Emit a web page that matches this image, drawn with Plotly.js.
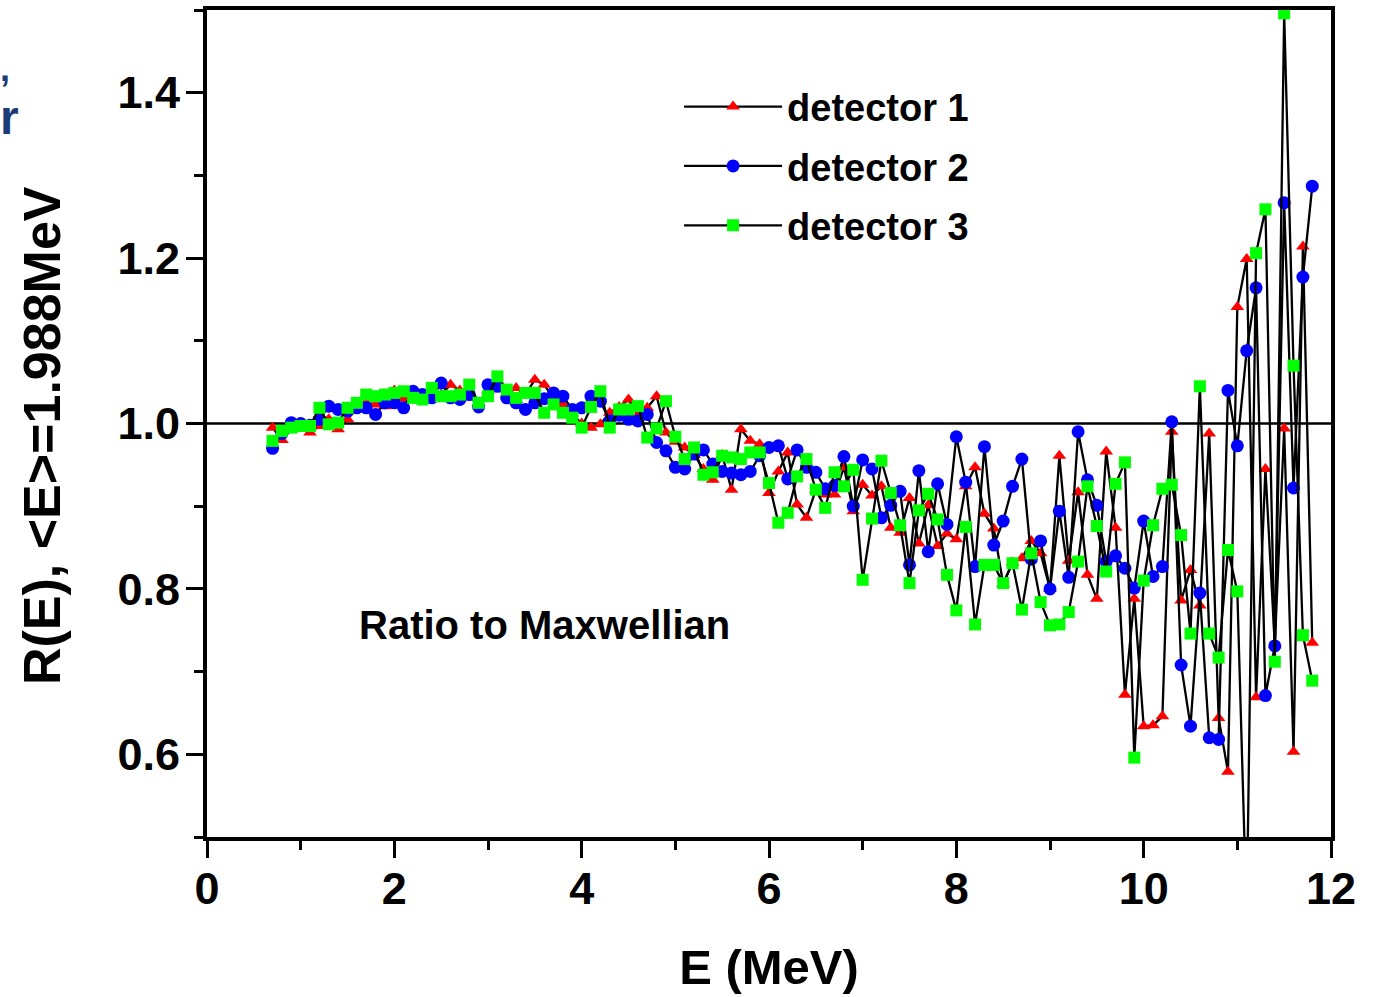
<!DOCTYPE html>
<html>
<head>
<meta charset="utf-8">
<script src="https://cdn.plot.ly/plotly-3.0.1.min.js"></script>
<style>html,body{margin:0;padding:0;background:#fff;}#chart{width:1375px;height:997px;}</style>
</head>
<body>
<div id="chart"></div>
<script>
const energy = [0.7,0.8,0.9,1.0,1.1,1.2,1.3,1.4,1.5,1.6,1.7,1.8,1.9,2.0,2.1,2.2,2.3,2.4,2.5,2.6,2.7,2.8,2.9,3.0,3.1,3.2,3.3,3.4,3.5,3.6,3.7,3.8,3.9,4.0,4.1,4.2,4.3,4.4,4.5,4.6,4.7,4.8,4.9,5.0,5.1,5.2,5.3,5.4,5.5,5.6,5.7,5.8,5.9,6.0,6.1,6.2,6.3,6.4,6.5,6.6,6.7,6.8,6.9,7.0,7.1,7.2,7.3,7.4,7.5,7.6,7.7,7.8,7.9,8.0,8.1,8.2,8.3,8.4,8.5,8.6,8.7,8.8,8.9,9.0,9.1,9.2,9.3,9.4,9.5,9.6,9.7,9.8,9.9,10.0,10.1,10.2,10.3,10.4,10.5,10.6,10.7,10.8,10.9,11.0,11.1,11.2,11.3,11.4,11.5,11.6,11.7,11.8];

const detector1 = [0.995,0.980,0.993,0.995,0.989,0.997,1.005,0.993,1.005,1.018,1.025,1.023,1.021,1.040,1.030,1.035,1.028,1.041,1.035,1.047,1.040,1.038,1.025,1.040,1.042,1.035,1.043,1.035,1.053,1.047,1.030,1.023,1.012,1.000,0.995,0.999,1.013,1.020,1.029,1.010,1.019,1.033,0.989,0.978,0.971,0.962,0.945,0.932,0.962,0.920,0.993,0.979,0.975,0.916,0.942,0.965,0.902,0.886,0.920,0.914,0.914,0.947,0.894,0.926,0.913,0.924,0.874,0.868,0.910,0.855,0.901,0.852,0.867,0.860,0.924,0.947,0.891,0.873,0.806,0.832,0.837,0.858,0.843,0.800,0.961,0.834,0.917,0.817,0.788,0.966,0.874,0.672,0.788,0.634,0.635,0.646,0.990,0.786,0.823,0.780,0.988,0.644,0.579,1.141,1.199,0.669,0.945,0.732,0.994,0.603,1.214,0.735];

const detector2 = [0.970,0.988,1.001,1.000,0.998,1.005,1.021,1.017,1.015,1.019,1.019,1.011,1.025,1.025,1.019,1.039,1.035,1.031,1.049,1.031,1.029,1.035,1.020,1.047,1.045,1.031,1.025,1.017,1.025,1.030,1.037,1.033,1.017,1.019,1.033,1.027,1.003,1.010,1.005,1.003,1.011,0.977,0.967,0.947,0.945,0.963,0.968,0.951,0.942,0.940,0.938,0.942,0.961,0.971,0.973,0.933,0.968,0.947,0.941,0.921,0.925,0.960,0.900,0.956,0.945,0.886,0.901,0.918,0.829,0.943,0.845,0.927,0.878,0.984,0.929,0.827,0.972,0.853,0.882,0.924,0.957,0.836,0.858,0.800,0.894,0.814,0.990,0.932,0.901,0.833,0.840,0.825,0.801,0.882,0.815,0.827,1.002,0.708,0.634,0.795,0.620,0.618,1.040,0.973,1.088,1.164,0.671,0.731,1.267,0.922,1.177,1.287];

const detector3 = [0.979,0.991,0.995,0.997,0.997,1.019,0.999,1.001,1.019,1.025,1.035,1.033,1.035,1.037,1.039,1.031,1.029,1.043,1.033,1.033,1.035,1.047,1.025,1.033,1.057,1.041,1.031,1.037,1.037,1.013,1.023,1.013,1.007,0.995,1.020,1.039,0.995,1.017,1.017,1.021,0.983,0.994,1.027,0.984,0.957,0.971,0.938,0.941,0.961,0.959,0.957,0.965,0.965,0.928,0.880,0.892,0.936,0.957,0.920,0.898,0.941,0.924,0.944,0.811,0.885,0.955,0.916,0.877,0.807,0.895,0.915,0.884,0.817,0.774,0.875,0.757,0.829,0.829,0.807,0.831,0.775,0.843,0.784,0.756,0.757,0.772,0.833,0.924,0.876,0.821,0.927,0.953,0.596,0.810,0.877,0.921,0.926,0.865,0.746,1.045,0.746,0.717,0.847,0.797,0.400,1.206,1.259,0.712,1.496,1.070,0.744,0.689];

const seriesNames = ['detector 1','detector 2','detector 3'];
const xTitle = 'E (MeV)';
const yTitle = 'R(E), <E>=1.988MeV';
const noteText = 'Ratio to Maxwellian';

const FONT = 'Liberation Sans, Arial, Helvetica, sans-serif';

function mk(y, name, symbol, color, size, grp) {
  return {
    x: energy, y: y, name: name, type: 'scatter', mode: 'lines+markers',
    legendgroup: grp,
    line: {color: '#000000', width: 2.3},
    marker: {symbol: symbol, color: color, size: size, line: {width: 0}},
    cliponaxis: true
  };
}

const data = [
  mk(detector1, seriesNames[0], 'triangle-up', '#ff0000', 12, 'g1'),
  mk(detector2, seriesNames[1], 'circle', '#0000ff', 13, 'g2'),
  mk(detector3, seriesNames[2], 'square', '#00ff00', 12, 'g3')
];

const axisCommon = {
  showline: true, linecolor: '#000', linewidth: 4, mirror: true,
  ticks: 'outside', ticklen: 17, tickwidth: 3, tickcolor: '#000',
  showgrid: false, zeroline: false,
  tickfont: {family: FONT, size: 45, color: '#000', weight: 'bold'}
};

const layout = {
  width: 1375, height: 997,
  margin: {l: 207, r: 44, t: 10, b: 160},
  paper_bgcolor: '#ffffff', plot_bgcolor: '#ffffff',
  showlegend: true,
  legend: {
    x: 0.42, y: 0.921, xanchor: 'left', yanchor: 'top',
    bgcolor: 'rgba(0,0,0,0)', borderwidth: 0,
    font: {family: FONT, size: 38, color: '#000', weight: 'bold'},
    traceorder: 'grouped', tracegroupgap: 7, itemwidth: 98
  },
  xaxis: Object.assign({}, axisCommon, {
    range: [0, 12], dtick: 2, tick0: 0, ticklabelstandoff: -8,
    minor: {dtick: 1, ticks: 'outside', ticklen: 9, tickwidth: 3, tickcolor: '#000'},
    title: {text: xTitle, font: {family: FONT, size: 49, color: '#000', weight: 'bold'}, standoff: 38}
  }),
  yaxis: Object.assign({}, axisCommon, {
    range: [0.5, 1.5], dtick: 0.2, tick0: 0.6, tickformat: '.1f', ticklabelstandoff: -3,
    minor: {dtick: 0.1, ticks: 'outside', ticklen: 9, tickwidth: 3, tickcolor: '#000'}
  }),
  shapes: [
    {type: 'line', xref: 'paper', x0: 0, x1: 1, yref: 'y', y0: 1.0, y1: 1.0,
     line: {color: '#000', width: 2.5}, layer: 'below'}
  ],
  annotations: [
    {text: yTitle, xref: 'paper', yref: 'paper', x: -0.1468, y: 0.486, textangle: -90,
     xanchor: 'center', yanchor: 'middle', showarrow: false,
     font: {family: FONT, size: 52, color: '#000', weight: 'bold'}},
    {text: noteText, xref: 'x', yref: 'y', x: 3.6, y: 0.756, showarrow: false,
     font: {family: FONT, size: 40, color: '#000', weight: 'bold'}},
    {text: ',', xref: 'paper', yref: 'paper', x: -0.186, y: 0.9565, xanchor: 'left', yanchor: 'top',
     showarrow: false, font: {family: FONT, size: 36, color: '#1c3c78', weight: 'bold'}},
    {text: 'r', xref: 'paper', yref: 'paper', x: -0.186, y: 0.905, xanchor: 'left', yanchor: 'top',
     showarrow: false, font: {family: FONT, size: 48, color: '#1c3c78', weight: 'bold'}}
  ]
};

Plotly.newPlot('chart', data, layout, {displayModeBar: false, staticPlot: true});
</script>
</body>
</html>
